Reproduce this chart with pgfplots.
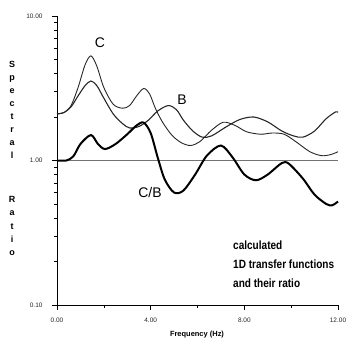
\documentclass[border=0pt]{standalone}
\usepackage{pgfplots}
\pgfplotsset{compat=1.18}
\usepackage{graphicx}
\usepackage{fontspec}
\setmainfont{Liberation Sans}
\begin{document}
\begin{tikzpicture}
\useasboundingbox (-57bp,-35bp) rectangle (293bp,305bp);
\begin{axis}[
  at={(0,0)}, anchor=south west,
  scale only axis, width=281bp, height=289bp,
  ymode=log, xmin=0, xmax=12, ymin=0.1, ymax=10,
  axis lines=left, axis line style={-, line width=0.8pt},
  xtick={0,4,8,12}, xticklabels={0.00,4.00,8.00,12.00},
  minor xtick={2,6,10},
  ytick={0.1,1,10}, yticklabels={0.10,1.00,10.00},
  minor ytick={0.2,0.3,0.4,0.5,0.6,0.7,0.8,0.9,2,3,4,5,6,7,8,9},
  tick align=outside,
  major tick length=5bp, minor tick length=3bp,
  tick style={black, line width=0.6pt},
  ticklabel style={font=\fontsize{6.5}{7}\selectfont, text=black!85},
  xticklabel style={yshift=-4bp},
  yticklabel style={xshift=-6bp},
  clip=false,
]
\addplot[black!55, line width=0.6pt] coordinates {(0,1) (12,1)};
\addplot[black!85, line width=0.9pt, smooth, tension=0.5] coordinates {
(0,2.1) (0.3,2.15) (0.6,2.4) (0.9,3.2) (1.2,4.6) (1.45,5.3) (1.7,4.5) (2.0,3.2)
(2.4,2.45) (2.8,2.3) (3.1,2.4) (3.4,2.8) (3.7,3.15) (3.95,2.9) (4.2,2.3) (4.5,1.85)
(4.9,1.5) (5.3,1.33) (5.7,1.27) (6.1,1.35) (6.6,1.62) (7.1,1.84) (7.6,1.75) (8.1,1.58)
(8.7,1.52) (9.2,1.55) (9.7,1.52) (10.2,1.35) (10.8,1.15) (11.3,1.08) (11.7,1.1) (12,1.15)};
\addplot[black!85, line width=1.1pt, smooth, tension=0.5] coordinates {
(0,2.1) (0.3,2.15) (0.6,2.35) (0.9,2.8) (1.2,3.3) (1.45,3.55) (1.7,3.3) (2.0,2.7)
(2.4,2.1) (2.8,1.8) (3.1,1.68) (3.5,1.72) (3.9,1.9) (4.3,2.2) (4.75,2.4) (5.1,2.25)
(5.4,1.9) (5.8,1.6) (6.2,1.45) (6.6,1.48) (7.2,1.7) (7.8,1.92) (8.4,2.0) (9.0,1.85)
(9.6,1.6) (10.1,1.48) (10.5,1.45) (11.0,1.6) (11.5,1.95) (11.9,2.17) (12,2.15)};
\addplot[black, line width=2pt, smooth, tension=0.5] coordinates {
(0,1.0) (0.4,1.0) (0.7,1.07) (1.0,1.3) (1.45,1.5) (1.75,1.3) (2.05,1.2) (2.5,1.3)
(3.0,1.52) (3.4,1.75) (3.7,1.83) (4.0,1.55) (4.3,1.05) (4.6,0.74) (5.0,0.6) (5.4,0.62)
(5.9,0.8) (6.4,1.08) (7.0,1.27) (7.5,1.05) (8.0,0.8) (8.5,0.73) (9.0,0.8) (9.6,0.96)
(9.9,0.95) (10.5,0.75) (11.0,0.58) (11.5,0.5) (11.75,0.49) (12,0.52)};
\end{axis}
\node[font=\fontsize{14}{14}\selectfont] at (43bp,262bp) {C};
\node[font=\fontsize{14}{14}\selectfont] at (125bp,205bp) {B};
\node[font=\fontsize{14}{14}\selectfont] at (93bp,112bp) {C/B};
\node[anchor=west, inner sep=0pt] at (176bp,40bp) {\scalebox{0.84}[1]{\fontsize{12}{19}\selectfont\bfseries\begin{tabular}{@{}l@{}}calculated\\1D transfer functions\\and their ratio\end{tabular}}};
\node[font=\fontsize{7.5}{8}\selectfont\bfseries] at (140bp,-30bp) {Frequency (Hz)};
\node[font=\fontsize{9}{13}\selectfont\bfseries, align=center] at (-45bp,195bp) {S\\p\\e\\c\\t\\r\\a\\l};
\node[font=\fontsize{9}{13.5}\selectfont\bfseries, align=center] at (-45bp,79bp) {R\\a\\t\\i\\o};
\end{tikzpicture}
\end{document}
